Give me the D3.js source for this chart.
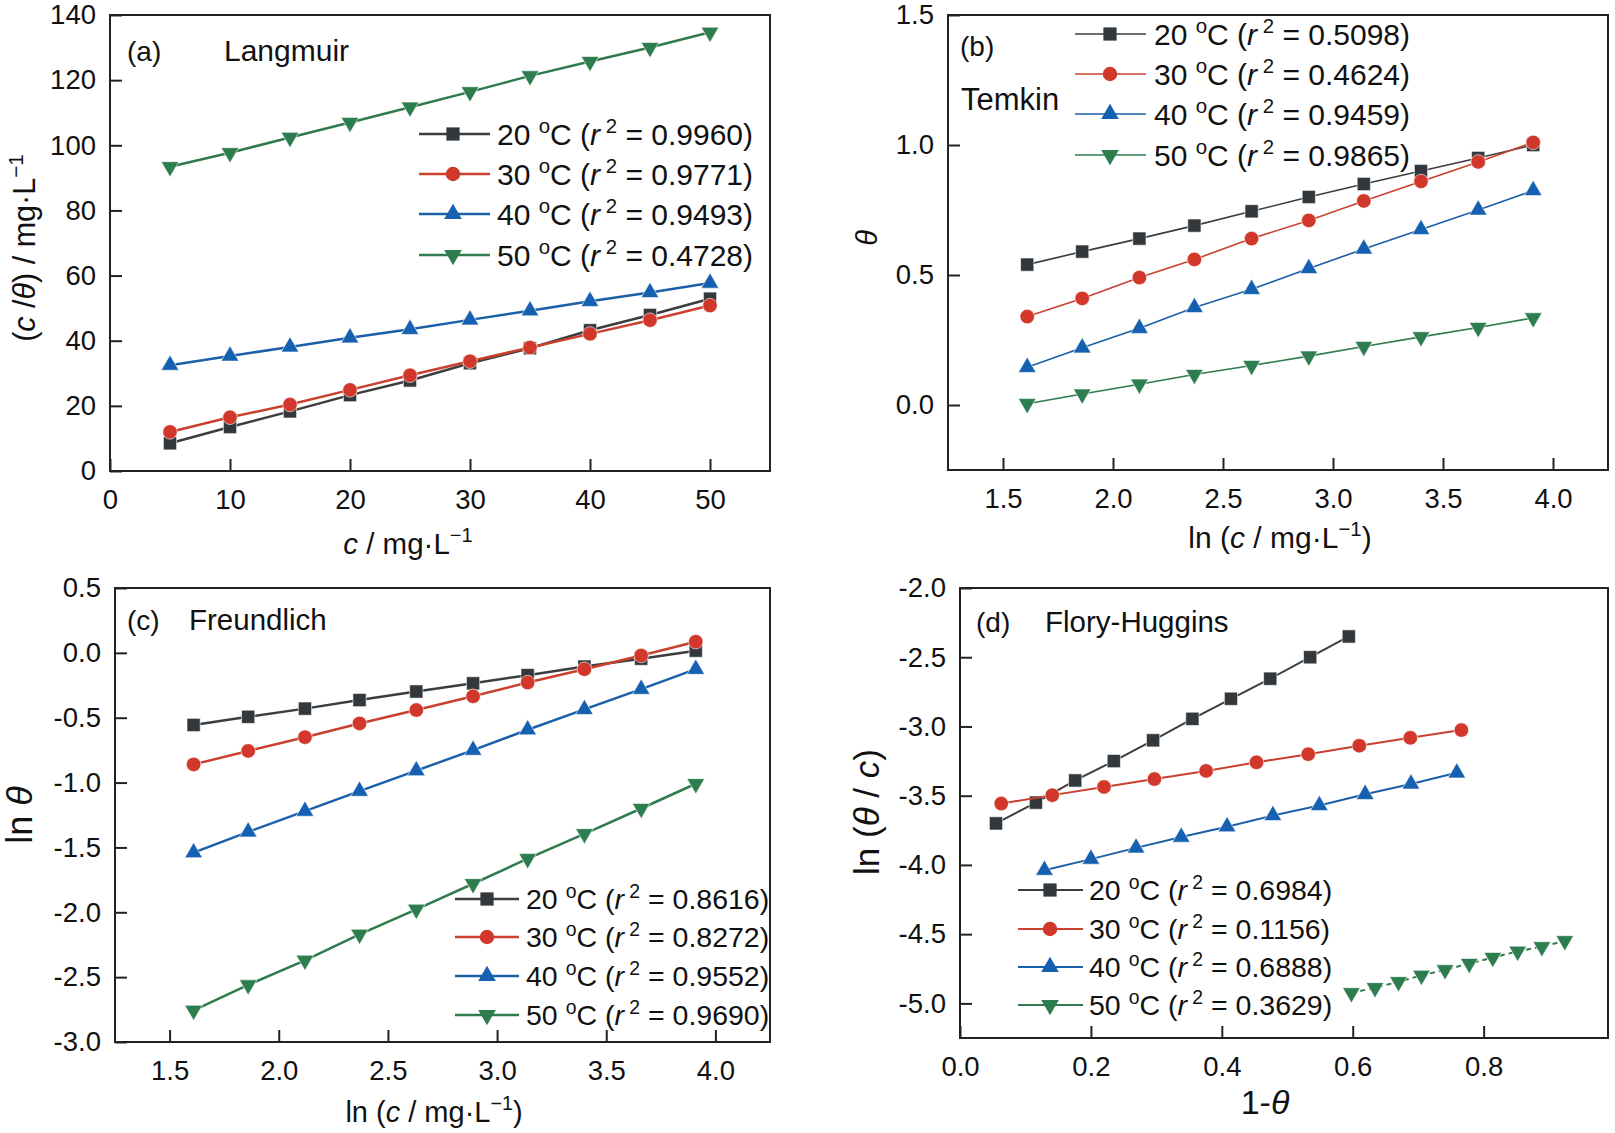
<!DOCTYPE html>
<html>
<head>
<meta charset="utf-8">
<script src="https://cdn.jsdelivr.net/npm/d3@7"></script>
<style>
  body { margin: 0; background: #fff; }
  svg { font-family: "Liberation Sans", Arial, sans-serif; }
</style>
</head>
<body>
<svg id="fig" width="1615" height="1133"></svg>
<script>
// _____________ data
var temps = ["20", "30", "40", "50"]

var cConc = [5, 10, 15, 20, 25, 30, 35, 40, 45, 50]
var lnConc = [1.61, 1.86, 2.12, 2.37, 2.63, 2.89, 3.14, 3.40, 3.66, 3.91]

// (a) Langmuir  c/theta
var lang20 = [8.5, 13.5, 18.3, 23.3, 27.8, 33.1, 37.7, 43.2, 47.9, 52.9]
var lang30 = [12.0, 16.5, 20.4, 24.9, 29.4, 33.7, 37.9, 42.1, 46.3, 50.8]
var lang40 = [32.5, 35.3, 38.1, 40.9, 43.5, 46.4, 49.2, 52.1, 54.8, 57.7]
var lang50 = [93.4, 97.7, 102.4, 107.0, 111.7, 116.4, 121.3, 125.7, 130.0, 134.7]
var langR2 = ["0.9960", "0.9771", "0.9493", "0.4728"]

// (b) Temkin  theta
var temk20 = [0.54, 0.59, 0.64, 0.69, 0.745, 0.80, 0.85, 0.90, 0.95, 1.00]
var temk30 = [0.34, 0.41, 0.49, 0.56, 0.64, 0.71, 0.785, 0.86, 0.935, 1.01]
var temk40 = [0.145, 0.22, 0.295, 0.375, 0.445, 0.525, 0.60, 0.675, 0.75, 0.825]
var temk50 = [0.005, 0.042, 0.08, 0.117, 0.152, 0.188, 0.225, 0.262, 0.298, 0.335]
var temkR2 = ["0.5098", "0.4624", "0.9459", "0.9865"]

// (c) Freundlich  ln theta
var freu20 = [-0.556, -0.493, -0.43, -0.364, -0.298, -0.235, -0.172, -0.106, -0.045, 0.017]
var freu30 = [-0.86, -0.756, -0.65, -0.544, -0.441, -0.335, -0.229, -0.126, -0.02, 0.086]
var freu40 = [-1.54, -1.38, -1.22, -1.066, -0.908, -0.75, -0.593, -0.436, -0.28, -0.126]
var freu50 = [-2.756, -2.56, -2.37, -2.17, -1.977, -1.78, -1.587, -1.395, -1.2, -1.009]
var freuR2 = ["0.8616", "0.8272", "0.9552", "0.9690"]

// (d) Flory-Huggins  1-theta  vs  ln(theta/c)
var flory20x = [0.055, 0.116, 0.176, 0.235, 0.295, 0.355, 0.414, 0.474, 0.535, 0.594]
var flory20 = [-3.70, -3.55, -3.39, -3.25, -3.10, -2.945, -2.80, -2.655, -2.50, -2.35]
var flory30x = [0.063, 0.141, 0.22, 0.297, 0.376, 0.453, 0.532, 0.61, 0.688, 0.766]
var flory30 = [-3.557, -3.496, -3.437, -3.38, -3.321, -3.259, -3.2, -3.139, -3.082, -3.026]
var flory40x = [0.129, 0.2, 0.269, 0.338, 0.408, 0.478, 0.549, 0.619, 0.689, 0.759]
var flory40 = [-4.038, -3.958, -3.877, -3.799, -3.724, -3.643, -3.571, -3.49, -3.415, -3.335]
var flory50x = [0.598, 0.634, 0.67, 0.705, 0.741, 0.778, 0.814, 0.852, 0.889, 0.924]
var flory50 = [-4.924, -4.887, -4.844, -4.798, -4.758, -4.712, -4.669, -4.624, -4.591, -4.548]
var floryR2 = ["0.6984", "0.1156", "0.6888", "0.3629"]

// tick labels
var ticksA_x = [0, 10, 20, 30, 40, 50]
var ticksA_y = [0, 20, 40, 60, 80, 100, 120, 140]
var ticksLn_x = [1.5, 2.0, 2.5, 3.0, 3.5, 4.0]
var ticksB_y = [0.0, 0.5, 1.0, 1.5]
var ticksC_y = [-3.0, -2.5, -2.0, -1.5, -1.0, -0.5, 0.0, 0.5]
var ticksD_x = [0.0, 0.2, 0.4, 0.6, 0.8]
var ticksD_y = [-5.0, -4.5, -4.0, -3.5, -3.0, -2.5, -2.0]

// _____________ styles
var lineCol = ["#3d3d3d", "#c9402f", "#1b5fa8", "#2f7b4d"]
var markCol = ["#33383c", "#d1372a", "#1560b0", "#2e7d4e"]
var symbols = [
  { type: d3.symbolSquare, size: 175, rot: 0 },
  { type: d3.symbolCircle, size: 165, rot: 0 },
  { type: d3.symbolTriangle, size: 135, rot: 0 },
  { type: d3.symbolTriangle, size: 135, rot: 180 }
]

var svg = d3.select("#fig")
var fmt1 = function (d) { return d.toFixed(1) }
var fmt0 = function (d) { return String(d) }

// ______________________ rich text helpers
function part(sel, txt, opt) {
  opt = opt || {}
  var t = sel.append("tspan").text(txt)
  if (opt.it) t.style("font-style", "italic")
  if (opt.fs) t.attr("font-size", opt.fs)
  if (opt.dy) t.attr("dy", opt.dy)
  return t
}

function legendLabel(sel, temp, r2, fs) {
  var s = fs * 0.4, small = fs * 0.68
  part(sel, temp + " ")
  part(sel, "o", { fs: small, dy: -s })
  part(sel, "C (", { dy: s })
  part(sel, "r", { it: true })
  part(sel, " 2", { fs: small, dy: -s })
  part(sel, " = " + r2 + ")", { dy: s })
}

function unitLabel(sel, fs, wrapLn) {
  var s = fs * 0.4, small = fs * 0.68
  if (wrapLn) part(sel, "ln (")
  part(sel, "c", { it: true })
  part(sel, " / mg\u00b7L")
  part(sel, "\u22121", { fs: small, dy: -s })
  if (wrapLn) part(sel, ")", { dy: s })
}

// ______________________ one panel
function panel(p) {
  var g = svg.append("g").attr("class", "panel")
  var x = d3.scaleLinear().domain(p.xDom).range([p.left, p.right])
  var y = d3.scaleLinear().domain(p.yDom).range([p.bottom, p.top])

  var ax = g.append("g")
    .attr("transform", "translate(0," + p.bottom + ")")
    .call(d3.axisBottom(x).tickValues(p.xTicks).tickSize(-12).tickPadding(18).tickFormat(p.xFmt))
  var ay = g.append("g")
    .attr("transform", "translate(" + p.left + ",0)")
    .call(d3.axisLeft(y).tickValues(p.yTicks).tickSize(-12).tickPadding(14).tickFormat(p.yFmt))

  ;[ax, ay].forEach(function (a) {
    a.select(".domain").remove()
    a.selectAll(".tick line").attr("stroke", "#222").attr("stroke-width", 2)
    a.selectAll(".tick text")
      .attr("fill", "#111")
      .style("font-size", "27.5px")
      .style("font-family", "'Liberation Sans', Arial, sans-serif")
  })

  g.append("rect")
    .attr("x", p.left).attr("y", p.top)
    .attr("width", p.right - p.left).attr("height", p.bottom - p.top)
    .attr("fill", "none").attr("stroke", "#222").attr("stroke-width", 2)

  // series
  p.series.forEach(function (s, i) {
    var pts = s.xs.map(function (v, k) { return [v, s.ys[k]] })
    var line = d3.line().x(function (d) { return x(d[0]) }).y(function (d) { return y(d[1]) })
    g.append("path")
      .datum(pts)
      .attr("d", line)
      .attr("fill", "none")
      .attr("stroke", lineCol[i])
      .attr("stroke-width", p.lw)
      .attr("stroke-dasharray", s.dash || null)

    var sym = symbols[i]
    g.selectAll("path.m" + i)
      .data(pts)
      .enter()
      .append("path")
        .attr("class", "m" + i)
        .attr("d", d3.symbol().type(sym.type).size(sym.size))
        .attr("transform", function (d) {
          return "translate(" + x(d[0]) + "," + y(d[1]) + ") rotate(" + sym.rot + ")"
        })
        .attr("fill", markCol[i])
        .attr("stroke", "#fff")
        .attr("stroke-width", 0.6)
  })

  // legend
  var L = p.legend
  temps.forEach(function (t, i) {
    var ly = L.ys[i]
    g.append("line")
      .attr("x1", L.x1).attr("x2", L.x2).attr("y1", ly).attr("y2", ly)
      .attr("stroke", lineCol[i]).attr("stroke-width", p.lw)
    var sym = symbols[i]
    g.append("path")
      .attr("d", d3.symbol().type(sym.type).size(sym.size))
      .attr("transform", "translate(" + L.mx + "," + ly + ") rotate(" + sym.rot + ")")
      .attr("fill", markCol[i])
    var tx = g.append("text")
      .attr("x", L.tx).attr("y", ly + L.fs * 0.36)
      .attr("font-size", L.fs).attr("fill", "#111")
    legendLabel(tx, t, p.r2[i], L.fs)
  })

  // panel tag and model name
  g.append("text").attr("x", p.tag[0]).attr("y", p.tag[1])
    .attr("font-size", 28).attr("fill", "#111").text(p.tag[2])
  g.append("text").attr("x", p.name[0]).attr("y", p.name[1])
    .attr("font-size", p.name[3]).attr("fill", "#111").text(p.name[2])

  // axis titles
  var xt = g.append("text")
    .attr("x", p.xTitle.x).attr("y", p.xTitle.y)
    .attr("text-anchor", "middle").attr("font-size", p.xTitle.fs).attr("fill", "#111")
  p.xTitle.draw(xt, p.xTitle.fs)

  var yt = g.append("text")
    .attr("transform", "translate(" + p.yTitle.x + "," + p.yTitle.y + ") rotate(-90)")
    .attr("text-anchor", "middle").attr("font-size", p.yTitle.fs).attr("fill", "#111")
  p.yTitle.draw(yt, p.yTitle.fs)
}

// ______________________ build the four panels
panel({
  left: 110, right: 770, top: 15, bottom: 471,
  xDom: [0, 55], yDom: [0, 140], xTicks: ticksA_x, yTicks: ticksA_y, xFmt: fmt0, yFmt: fmt0,
  lw: 2.5,
  series: [
    { xs: cConc, ys: lang20 }, { xs: cConc, ys: lang30 },
    { xs: cConc, ys: lang40 }, { xs: cConc, ys: lang50 }
  ],
  r2: langR2,
  legend: { x1: 419, x2: 490, mx: 453, tx: 497, ys: [134, 174, 214, 255], fs: 30 },
  tag: [127, 61, "(a)"], name: [224, 61, "Langmuir", 30],
  xTitle: { x: 408, y: 554, fs: 29.5, draw: function (s, fs) { unitLabel(s, fs, false) } },
  yTitle: { x: 35, y: 248, fs: 30.5, draw: function (s, fs) {
    var sh = fs * 0.4
    part(s, "("); part(s, "c", { it: true }); part(s, " /"); part(s, "\u03b8", { it: true })
    part(s, ") / mg\u00b7L"); part(s, "\u22121", { fs: fs * 0.68, dy: -sh })
  } }
})

panel({
  left: 948, right: 1608, top: 15, bottom: 470,
  xDom: [1.25, 4.25], yDom: [-0.25, 1.5], xTicks: ticksLn_x, yTicks: ticksB_y, xFmt: fmt1, yFmt: fmt1,
  lw: 1.6,
  series: [
    { xs: lnConc, ys: temk20 }, { xs: lnConc, ys: temk30 },
    { xs: lnConc, ys: temk40 }, { xs: lnConc, ys: temk50 }
  ],
  r2: temkR2,
  legend: { x1: 1075, x2: 1146, mx: 1110, tx: 1154, ys: [34, 74, 114, 155], fs: 30 },
  tag: [960, 56, "(b)"], name: [961, 110, "Temkin", 31],
  xTitle: { x: 1280, y: 548, fs: 30, draw: function (s, fs) { unitLabel(s, fs, true) } },
  yTitle: { x: 877, y: 238, fs: 29, draw: function (s, fs) { part(s, "\u03b8", { it: true }) } }
})

panel({
  left: 115, right: 770, top: 588, bottom: 1042,
  xDom: [1.25, 4.25], yDom: [-3, 0.5], xTicks: ticksLn_x, yTicks: ticksC_y, xFmt: fmt1, yFmt: fmt1,
  lw: 2.5,
  series: [
    { xs: lnConc, ys: freu20 }, { xs: lnConc, ys: freu30 },
    { xs: lnConc, ys: freu40 }, { xs: lnConc, ys: freu50 }
  ],
  r2: freuR2,
  legend: { x1: 455, x2: 519, mx: 487, tx: 526, ys: [899, 937, 976, 1015], fs: 28.5 },
  tag: [127, 630, "(c)"], name: [189, 630, "Freundlich", 29.5],
  xTitle: { x: 434, y: 1122, fs: 29, draw: function (s, fs) { unitLabel(s, fs, true) } },
  yTitle: { x: 32, y: 815, fs: 36, draw: function (s, fs) { part(s, "ln "); part(s, "\u03b8", { it: true }) } }
})

panel({
  left: 960, right: 1608, top: 588, bottom: 1038,
  xDom: [0, 0.99], yDom: [-5.25, -2], xTicks: ticksD_x, yTicks: ticksD_y, xFmt: fmt1, yFmt: fmt1,
  lw: 2,
  series: [
    { xs: flory20x, ys: flory20 }, { xs: flory30x, ys: flory30 },
    { xs: flory40x, ys: flory40 }, { xs: flory50x, ys: flory50, dash: "5,4" }
  ],
  r2: floryR2,
  legend: { x1: 1018, x2: 1083, mx: 1050, tx: 1089, ys: [890, 929, 967, 1005], fs: 28.5 },
  tag: [976, 632, "(d)"], name: [1045, 632, "Flory-Huggins", 29.5],
  xTitle: { x: 1265, y: 1114, fs: 34, draw: function (s, fs) { part(s, "1-"); part(s, "\u03b8", { it: true }) } },
  yTitle: { x: 879, y: 812, fs: 35, draw: function (s, fs) {
    part(s, "ln ("); part(s, "\u03b8", { it: true }); part(s, " / "); part(s, "c", { it: true }); part(s, ")")
  } }
})
</script>
</body>
</html>
